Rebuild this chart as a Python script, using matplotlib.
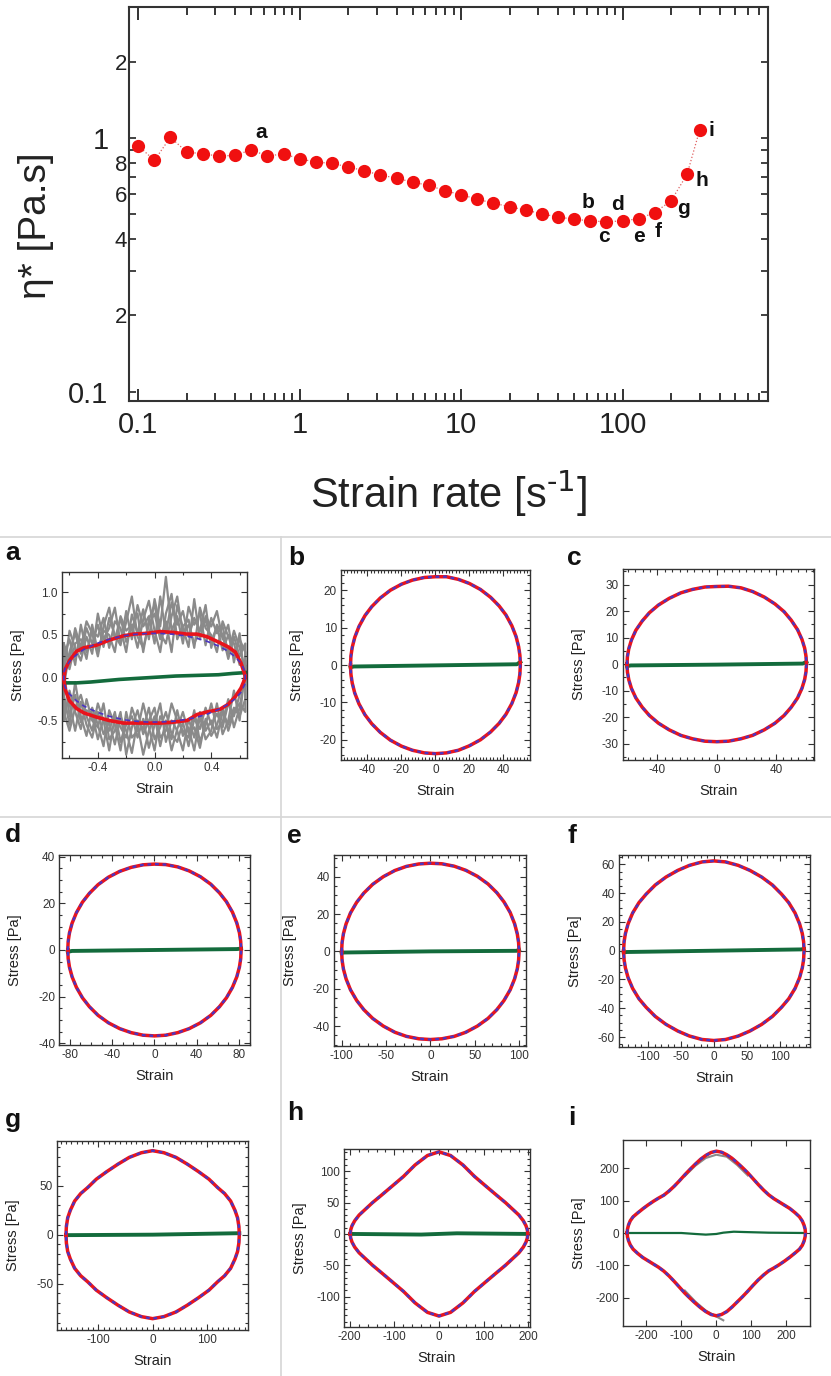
import numpy as np
import matplotlib.pyplot as plt
from matplotlib.lines import Line2D
from matplotlib.ticker import (FixedLocator, FixedFormatter, NullFormatter, MultipleLocator,
                               AutoMinorLocator, FormatStrFormatter)

plt.rcParams['font.family'] = ['Liberation Sans', 'DejaVu Sans']
plt.rcParams['axes.unicode_minus'] = False

W, H = 831, 1376

# ---- top panel: complex viscosity vs strain rate ----
rate = [0.1, 0.126, 0.158, 0.2, 0.251, 0.316, 0.398, 0.501, 0.631, 0.794,
        1.0, 1.26, 1.58, 2.0, 2.51, 3.16, 3.98, 5.01, 6.31, 7.94,
        10.0, 12.6, 15.8, 20.0, 25.1, 31.6, 39.8, 50.1, 63.1, 79.4,
        100, 126, 158, 200, 251, 300]
eta = [0.932, 0.817, 1.007, 0.881, 0.867, 0.849, 0.855, 0.899, 0.849, 0.867,
       0.829, 0.804, 0.795, 0.770, 0.743, 0.715, 0.695, 0.670, 0.651, 0.620,
       0.598, 0.574, 0.554, 0.536, 0.520, 0.503, 0.488, 0.479, 0.471, 0.468,
       0.471, 0.481, 0.508, 0.566, 0.719, 1.072]
point_names = ['a', 'b', 'c', 'd', 'e', 'f', 'g', 'h', 'i']
point_index = [7, 28, 29, 30, 31, 32, 33, 34, 35]

# ---- LAOS loops: strain grid, upper branch and lower branch stress ----
a_strain = [-0.64, -0.63, -0.6, -0.55, -0.5, -0.41, -0.32, -0.22, -0.15, -0.05,
            0.04, 0.13, 0.23, 0.3, 0.37, 0.46, 0.52, 0.57, 0.61, 0.64]
a_red_up = [0.0, 0.1, 0.2, 0.31, 0.35, 0.38, 0.44, 0.49, 0.51, 0.52,
            0.54, 0.53, 0.51, 0.51, 0.48, 0.41, 0.36, 0.30, 0.17, 0.02]
a_red_lo = [-0.02, -0.14, -0.27, -0.36, -0.41, -0.46, -0.50, -0.53, -0.53, -0.53,
            -0.53, -0.52, -0.50, -0.43, -0.40, -0.37, -0.31, -0.22, -0.12, 0.0]
a_fit_up = [0.065, 0.11, 0.19, 0.27, 0.33, 0.40, 0.45, 0.49, 0.506, 0.518,
            0.518, 0.509, 0.486, 0.46, 0.426, 0.365, 0.308, 0.243, 0.169, 0.065]
a_fit_lo = [-0.065, -0.11, -0.19, -0.27, -0.33, -0.40, -0.45, -0.49, -0.506, -0.518,
            -0.518, -0.509, -0.486, -0.46, -0.426, -0.365, -0.308, -0.243, -0.169, -0.065]

a_raw_strain = [-0.64, -0.60, -0.56, -0.52, -0.48, -0.44, -0.40, -0.36, -0.32, -0.28,
                -0.24, -0.20, -0.16, -0.12, -0.08, -0.04, 0.00, 0.04, 0.08, 0.12,
                0.16, 0.20, 0.24, 0.28, 0.32, 0.36, 0.40, 0.44, 0.48, 0.52,
                0.56, 0.60, 0.64]
a_raw1_up = [0.25, 0.45, 0.15, 0.62, 0.30, 0.55, 0.48, 0.70, 0.35, 0.66, 0.58, 0.30, 0.74, 0.52, 0.80, 0.45, 0.92,
             0.60, 1.18, 0.55, 0.72, 0.40, 0.83, 0.62, 0.75, 0.38, 0.70, 0.52, 0.60, 0.28, 0.55, 0.35, 0.10]
a_raw1_lo = [-0.35, -0.30, -0.62, -0.28, -0.55, -0.70, -0.40, -0.66, -0.52, -0.78, -0.45, -0.62, -0.88, -0.50, -0.60,
             -0.35, -0.72, -0.58, -0.40, -0.66, -0.75, -0.52, -0.80, -0.48, -0.60, -0.35, -0.55, -0.42, -0.58, -0.30,
             -0.45, -0.20, -0.05]
a_raw2_up = [-0.10, 0.30, 0.52, 0.28, 0.58, 0.40, 0.62, 0.36, 0.70, 0.50, 0.38, 0.78, 0.45, 0.85, 0.60, 0.72, 0.40,
             0.95, 0.52, 0.88, 0.62, 0.78, 0.48, 0.70, 0.55, 0.68, 0.42, 0.60, 0.32, 0.50, 0.25, 0.45, 0.30]
a_raw2_lo = [0.10, -0.45, -0.20, -0.52, -0.38, -0.42, -0.72, -0.48, -0.62, -0.40, -0.75, -0.55, -0.45, -0.70, -0.48,
             -0.82, -0.55, -0.30, -0.75, -0.50, -0.62, -0.85, -0.48, -0.70, -0.40, -0.62, -0.50, -0.70, -0.40, -0.55,
             -0.35, -0.45, -0.25]
a_raw3_up = [0.35, 0.10, 0.40, 0.45, 0.22, 0.62, 0.30, 0.55, 0.50, 0.30, 0.72, 0.55, 0.62, 0.35, 0.68, 0.90, 0.55,
             0.30, 0.75, 0.98, 0.45, 0.60, 0.68, 0.35, 0.82, 0.58, 0.50, 0.30, 0.66, 0.48, 0.40, 0.15, 0.20]
a_raw3_lo = [-0.50, -0.15, -0.40, -0.60, -0.25, -0.50, -0.58, -0.30, -0.72, -0.62, -0.40, -0.90, -0.58, -0.38, -0.66,
             -0.50, -0.35, -0.70, -0.62, -0.30, -0.50, -0.62, -0.70, -0.38, -0.75, -0.55, -0.30, -0.60, -0.52, -0.25,
             -0.58, -0.35, 0.05]
a_raw4_up = [0.05, 0.55, 0.35, 0.20, 0.48, 0.28, 0.75, 0.45, 0.58, 0.82, 0.40, 0.65, 0.95, 0.48, 0.35, 0.62, 0.75,
             0.45, 0.66, 0.30, 0.85, 0.58, 0.36, 0.92, 0.45, 0.72, 0.60, 0.78, 0.45, 0.62, 0.18, 0.52, -0.10]
a_raw4_lo = [-0.20, -0.55, -0.05, -0.45, -0.68, -0.35, -0.55, -0.80, -0.38, -0.55, -0.85, -0.40, -0.70, -0.62, -0.30,
             -0.58, -0.85, -0.45, -0.55, -0.72, -0.38, -0.68, -0.58, -0.85, -0.45, -0.72, -0.62, -0.30, -0.66, -0.50,
             -0.15, -0.50, 0.15]
a_raw5_up = [0.40, 0.20, 0.58, 0.35, 0.66, 0.52, 0.25, 0.60, 0.82, 0.45, 0.70, 0.42, 0.58, 0.75, 0.30, 0.68, 0.85,
             0.52, 0.40, 0.72, 0.95, 0.50, 0.62, 0.40, 0.55, 0.85, 0.35, 0.62, 0.50, 0.22, 0.48, 0.25, 0.40]
a_raw5_lo = [-0.40, -0.62, -0.35, -0.20, -0.45, -0.62, -0.30, -0.50, -0.85, -0.45, -0.58, -0.70, -0.35, -0.55, -0.90,
             -0.62, -0.45, -0.80, -0.50, -0.85, -0.60, -0.40, -0.65, -0.58, -0.82, -0.48, -0.68, -0.55, -0.35, -0.62,
             -0.40, -0.30, -0.40]
a_green_x = [-0.64, -0.55, -0.45, -0.35, -0.25, -0.15, -0.05, 0.05, 0.15, 0.25, 0.35, 0.45, 0.55, 0.64]
a_green_y = [-0.06, -0.06, -0.05, -0.035, -0.02, -0.01, 0.0, 0.01, 0.02, 0.025, 0.03, 0.035, 0.05, 0.06]

b_strain = [-50, -49.75, -49, -47.5, -45, -41.5, -37.5, -32.5, -26.5, -20, -13.5, -6.5, 0,
            6.5, 13.5, 20, 26.5, 32.5, 37.5, 41.5, 45, 47.5, 49, 49.75, 50]
b_up = [0, 2.4, 4.7, 7.4, 10.3, 13.2, 15.6, 17.9, 20.0, 21.6, 22.7, 23.4, 23.6,
        23.6, 22.9, 21.8, 20.2, 18.1, 15.8, 13.4, 10.5, 7.6, 4.9, 2.6, 0.3]
b_lo = [-0.4, -2.5, -4.8, -7.5, -10.4, -13.3, -15.7, -18.0, -20.1, -21.7, -22.8, -23.5, -23.7,
        -23.5, -22.8, -21.6, -20.0, -17.9, -15.6, -13.2, -10.3, -7.4, -4.7, -2.4, 0]
b_green_x = [-50, -48, 0, 48, 50]
b_green_y = [-0.6, -0.4, -0.1, 0.2, 0.8]

c_strain = [-60.5, -60.2, -59.3, -57.5, -54.5, -50.2, -45.4, -39.3, -32.1, -24.2, -16.3, -7.9, 0,
            7.9, 16.3, 24.2, 32.1, 39.3, 45.4, 50.2, 54.5, 57.5, 59.3, 60.2, 60.5]
c_up = [0, 2.9, 5.8, 9.1, 12.8, 16.3, 19.4, 22.3, 24.8, 26.9, 28.2, 29.1, 29.3,
        29.4, 28.8, 27.4, 25.3, 22.7, 19.8, 16.6, 13.0, 9.3, 6.0, 3.0, 0.2]
c_lo = [-0.3, -3.0, -5.9, -9.2, -12.8, -16.3, -19.4, -22.3, -24.8, -26.9, -28.2, -29.1, -29.3,
        -29.1, -28.2, -26.9, -24.8, -22.3, -19.4, -16.3, -12.8, -9.1, -5.8, -2.9, 0]
c_green_x = [-60.5, -58, 0, 58, 60.5]
c_green_y = [-0.8, -0.5, -0.2, 0.2, 0.8]

d_strain = [-82, -81.6, -80.4, -77.9, -73.8, -68.1, -61.5, -53.3, -43.5, -32.8, -22.1, -10.7, 0,
            10.7, 22.1, 32.8, 43.5, 53.3, 61.5, 68.1, 73.8, 77.9, 80.4, 81.6, 82]
d_up = [0, 3.7, 7.3, 11.5, 16.0, 20.5, 24.3, 28.0, 31.2, 33.7, 35.4, 36.5, 36.8,
        36.6, 35.6, 33.9, 31.4, 28.2, 24.5, 20.7, 16.2, 11.6, 7.4, 3.7, 0]
d_lo = [0, -3.7, -7.3, -11.5, -16.0, -20.5, -24.3, -28.0, -31.2, -33.7, -35.4, -36.5, -36.8,
        -36.5, -35.4, -33.7, -31.2, -28.0, -24.3, -20.5, -16.0, -11.5, -7.3, -3.7, 0]
d_green_x = [-82, -78, 0, 78, 82]
d_green_y = [-0.8, -0.4, 0, 0.4, 0.6]

e_strain = [-100, -99.5, -98, -95, -90, -83, -75, -65, -53, -40, -27, -13, 0,
            13, 27, 40, 53, 65, 75, 83, 90, 95, 98, 99.5, 100]
e_up = [0, 4.7, 9.4, 14.7, 20.6, 26.3, 31.2, 35.9, 40.0, 43.3, 45.5, 46.8, 47.2,
        46.9, 45.6, 43.4, 40.2, 36.1, 31.4, 26.5, 20.8, 14.8, 9.4, 4.7, 0]
e_lo = [0, -4.7, -9.4, -14.7, -20.6, -26.3, -31.2, -35.9, -40.0, -43.3, -45.5, -46.8, -47.2,
        -46.8, -45.5, -43.3, -40.0, -35.9, -31.2, -26.3, -20.6, -14.7, -9.4, -4.7, 0]
e_green_x = [-100, -97, 0, 97, 100]
e_green_y = [-0.8, -0.6, 0, 0.3, 0.8]

f_strain = [-137, -136.3, -134.3, -130.2, -123.3, -113.7, -102.8, -89.1, -72.6, -54.8, -37, -17.8, 0,
            17.8, 37, 54.8, 72.6, 89.1, 102.8, 113.7, 123.3, 130.2, 134.3, 136.3, 137]
f_up = [0, 6.2, 11.9, 18.7, 26.2, 33.4, 39.3, 45.6, 51.2, 55.8, 59.3, 61.7, 62.4,
        61.7, 59.3, 55.8, 51.2, 45.6, 39.3, 33.4, 26.2, 18.7, 11.9, 6.2, 0]
f_lo = [0, -6.2, -11.9, -18.7, -26.2, -33.4, -39.3, -45.6, -51.2, -55.8, -59.3, -61.7, -62.4,
        -61.7, -59.3, -55.8, -51.2, -45.6, -39.3, -33.4, -26.2, -18.7, -11.9, -6.2, 0]
f_green_x = [-137, -132, 0, 132, 137]
f_green_y = [-1.2, -0.9, 0, 0.9, 1.2]

g_strain = [-160, -159.2, -156.8, -152, -144, -132.8, -120, -104, -84.8, -64, -43.2, -20.8, 0,
            20.8, 43.2, 64, 84.8, 104, 120, 132.8, 144, 152, 156.8, 159.2, 160]
g_up = [0, 8.6, 17.2, 24.9, 34.4, 42.1, 48.2, 56.8, 64.5, 72.2, 79.1, 83.9, 86,
        83.9, 79.1, 72.2, 64.5, 56.8, 48.2, 42.1, 34.4, 24.9, 17.2, 8.6, 0]
g_lo = [0, -8.6, -17.2, -24.9, -34.4, -42.1, -48.2, -56.8, -64.5, -72.2, -79.1, -83.9, -86,
        -83.9, -79.1, -72.2, -64.5, -56.8, -48.2, -42.1, -34.4, -24.9, -17.2, -8.6, 0]
g_green_x = [-160, 0, 160]
g_green_y = [-0.5, 0, 1.5]

h_strain = [-199, -198, -195, -189, -179.1, -165.2, -149.3, -129.4, -105.5, -79.6, -53.7, -25.9, 0,
            25.9, 53.7, 79.6, 105.5, 129.4, 149.3, 165.2, 179.1, 189, 195, 198, 199]
h_up = [0, 6.6, 13.1, 21.0, 30.1, 39.3, 49.8, 61.6, 76.0, 91.7, 110.0, 125.1, 131,
        125.1, 110.0, 91.7, 76.0, 61.6, 49.8, 39.3, 30.1, 21.0, 13.1, 6.6, 0]
h_lo = [0, -6.6, -13.1, -21.0, -30.1, -39.3, -49.8, -61.6, -76.0, -91.7, -110.0, -125.1, -131,
        -125.1, -110.0, -91.7, -76.0, -61.6, -49.8, -39.3, -30.1, -21.0, -13.1, -6.6, 0]
h_green_x = [-199, -40, 0, 40, 199]
h_green_y = [0, -1, 0, 1, 0]

i_strain = [-255, -254, -251, -246, -238, -225, -210, -195, -180, -165, -150, -135, -120, -105, -90, -75,
            -60, -45, -30, -15, 0, 15, 30, 45, 60, 75, 90, 105, 120, 135, 150, 165, 180, 195, 210, 225,
            238, 246, 251, 254, 255]
i_up = [0, 12, 25, 38, 50, 62, 75, 87, 98, 108, 117, 130, 145, 162, 180, 197,
        213, 228, 240, 249, 253, 250, 242, 231, 217, 202, 186, 168, 150, 133, 118, 106, 96, 86, 76, 63,
        50, 37, 24, 12, 0]
i_lo = [0, -12, -24, -37, -50, -63, -76, -86, -96, -106, -118, -133, -150, -168, -186, -202,
        -217, -231, -243, -252, -256, -252, -243, -229, -213, -197, -180, -162, -145, -130, -117, -108, -98,
        -87, -75, -62, -50, -38, -25, -12, 0]
i_raw_up_x = [-90, -60, -30, 0, 30, 60, 90]
i_raw_up_y = [176, 208, 232, 242, 236, 210, 178]
i_raw_lo_x = [-90, -60, -30, 0, 20]
i_raw_lo_y = [-178, -212, -240, -258, -270]
i_green_x = [-255, -100, -60, -30, 0, 20, 50, 80, 150, 255]
i_green_y = [0, 0, -3, -5, -3, 1, 4, 3, 1, 0]

RED = '#e8141c'
BLUE = '#4a34c4'
GREEN = '#136b3c'
GRAY = '#8a8a8a'
DARK = '#333333'


def px_axes(fig, l, t, r, b):
    return fig.add_axes([l / W, 1 - b / H, (r - l) / W, (b - t) / H])


def loop(x, up, lo):
    x = list(x)
    return x + x[::-1] + [x[0]], list(up) + list(lo)[::-1] + [up[0]]


fig = plt.figure(figsize=(W / 100, H / 100), dpi=100)

# ---------------- top plot ----------------
ax = px_axes(fig, 129.3, 7, 768.3, 401)
ax.plot(rate, eta, ':', color='#e06060', lw=0.9, zorder=2)
ax.plot(rate, eta, 'o', color='#f01010', ms=9.5, mec='none', zorder=3)
ax.set_xscale('log')
ax.set_yscale('log')
ax.set_xlim(0.088, 800)
ax.set_ylim(0.0918, 3.29)

ax.xaxis.set_major_locator(FixedLocator([0.1, 1, 10, 100]))
ax.set_xticklabels(['0.1', '1', '10', '100'])
xminor = [m * d for d in [0.1, 1, 10, 100] for m in range(2, 10) if m * d < 800]
ax.xaxis.set_minor_locator(FixedLocator(xminor))
ax.xaxis.set_minor_formatter(NullFormatter())
ax.yaxis.set_major_locator(FixedLocator([0.1, 1]))
ax.set_yticklabels(['0.1', '1'])
ax.yaxis.set_minor_locator(FixedLocator([0.2, 0.3, 0.4, 0.5, 0.6, 0.7, 0.8, 0.9, 2]))
ax.yaxis.set_minor_formatter(FixedFormatter(['2', '', '4', '', '6', '', '8', '', '2']))
ax.tick_params(axis='x', which='major', direction='in', top=True, length=9, width=1.3,
               labelsize=21, pad=7, colors='#222222')
ax.tick_params(axis='x', which='minor', direction='in', top=True, length=5.5, width=1.1)
ax.tick_params(axis='y', which='major', direction='in', right=True, length=5, width=1.2,
               labelsize=21, pad=15, colors='#222222')
ax.tick_params(axis='y', which='minor', direction='in', right=True, length=5, width=1.2,
               labelsize=16, pad=1.5, colors='#222222')
for s in ax.spines.values():
    s.set_linewidth(1.5)
    s.set_color(DARK)

for name, k, off in zip(point_names, point_index,
                        [(10, 17), (-2, 18), (-2, -15), (-5, 16), (0, -18), (4, -19), (12, -8), (15, -6), (12, 0)]):
    ax.annotate(name, (rate[k], eta[k]), xytext=off, textcoords='offset pixels',
                ha='center', va='center', fontsize=15, fontweight='bold', color='#111111')

ax.set_ylabel('η* [Pa.s]', fontsize=28, va='center', color='#222222')
ax.yaxis.set_label_coords(-0.146, 0.444)
ax.set_xlabel('Strain rate [s$^{\\text{-1}}$]', fontsize=30, va='top', color='#222222')
ax.xaxis.set_label_coords(0.5, -0.17)

# ---------------- separators ----------------
fig.add_artist(Line2D([0, 1], [1 - 537 / H] * 2, color='#d6d6d6', lw=1.2))
fig.add_artist(Line2D([0, 1], [1 - 817 / H] * 2, color='#d6d6d6', lw=1.2))
fig.add_artist(Line2D([281 / W] * 2, [0, 1 - 537 / H], color='#d6d6d6', lw=1.2))

# ---------------- LAOS panels ----------------
panels = [
    ('a', (61.7, 571.7, 246.7, 757.7), (-0.655, 0.65), (-0.935, 1.24), 0.4, 2, 0.5, 2, '%.1f', '%.1f', (5, 560)),
    ('b', (341, 570, 530, 760), (-55.6, 55.7), (-25.4, 25.4), 20, 10, 10, 5, '%d', '%d', (288, 565)),
    ('c', (622.7, 569, 814, 760), (-63.4, 65.6), (-36.2, 35.9), 40, 8, 10, 2, '%d', '%d', (567, 565)),
    ('d', (59.3, 855, 250, 1045), (-90, 90.4), (-40.7, 40.7), 40, 4, 20, 4, '%d', '%d', (5, 842)),
    ('e', (334, 855, 525.7, 1045.7), (-108.6, 107.5), (-50.5, 51.6), 50, 5, 20, 4, '%d', '%d', (287, 843)),
    ('f', (619, 855, 810, 1046.7), (-144, 146), (-66.7, 66.5), 50, 5, 20, 4, '%d', '%d', (568, 843)),
    ('g', (57.3, 1140.7, 248.3, 1330), (-176, 176.6), (-97.6, 96.2), 100, 10, 50, 5, '%d', '%d', (5, 1127)),
    ('h', (344, 1149, 530, 1326.7), (-213, 204), (-148, 135.5), 100, 5, 50, 5, '%d', '%d', (287, 1120)),
    ('i', (623.3, 1140, 810, 1326), (-266, 268), (-287.6, 287.6), 100, 1, 100, 1, '%d', '%d', (568, 1125)),
]
loops = {
    'b': (b_strain, b_up, b_lo, b_green_x, b_green_y),
    'c': (c_strain, c_up, c_lo, c_green_x, c_green_y),
    'd': (d_strain, d_up, d_lo, d_green_x, d_green_y),
    'e': (e_strain, e_up, e_lo, e_green_x, e_green_y),
    'f': (f_strain, f_up, f_lo, f_green_x, f_green_y),
    'g': (g_strain, g_up, g_lo, g_green_x, g_green_y),
    'h': (h_strain, h_up, h_lo, h_green_x, h_green_y),
    'i': (i_strain, i_up, i_lo, i_green_x, i_green_y),
}

for (name, rect, xl, yl, xmaj, xmin_n, ymaj, ymin_n, xfmt, yfmt, lpos) in panels:
    a = px_axes(fig, *rect)
    if name == 'a':
        for up, lo in [(a_raw1_up, a_raw1_lo), (a_raw2_up, a_raw2_lo), (a_raw3_up, a_raw3_lo),
                       (a_raw4_up, a_raw4_lo), (a_raw5_up, a_raw5_lo)]:
            x, y = loop(a_raw_strain, up, lo)
            a.plot(x, y, color=GRAY, lw=1.6, zorder=1)
        a.plot(a_green_x, a_green_y, color=GREEN, lw=2.6, zorder=2)
        x, y = loop(a_strain, a_red_up, a_red_lo)
        a.plot(x, y, color=RED, lw=2.6, zorder=3)
        x, y = loop(a_strain, a_fit_up, a_fit_lo)
        a.plot(x, y, color=BLUE, lw=1.2, dashes=(3, 2.5), zorder=4)
    else:
        sx, up, lo, gx, gy = loops[name]
        if name == 'i':
            a.plot(i_raw_up_x, i_raw_up_y, color=GRAY, lw=1.5, zorder=1)
            a.plot(i_raw_lo_x, i_raw_lo_y, color=GRAY, lw=1.5, zorder=1)
        a.plot(gx, gy, color=GREEN, lw=1.6 if name == 'i' else 2.8, zorder=2)
        x, y = loop(sx, up, lo)
        a.plot(x, y, color=RED, lw=2.5, zorder=3)
        a.plot(x, y, color=BLUE, lw=1.7, dashes=(1.6, 1.6), zorder=4)
    a.set_xlim(*xl)
    a.set_ylim(*yl)
    a.xaxis.set_major_locator(MultipleLocator(xmaj))
    a.yaxis.set_major_locator(MultipleLocator(ymaj))
    if xmin_n > 1:
        a.xaxis.set_minor_locator(AutoMinorLocator(xmin_n))
    if ymin_n > 1:
        a.yaxis.set_minor_locator(AutoMinorLocator(ymin_n))
    a.xaxis.set_major_formatter(FormatStrFormatter(xfmt))
    a.yaxis.set_major_formatter(FormatStrFormatter(yfmt))
    a.tick_params(which='both', direction='in', top=True, right=True, colors=DARK,
                  labelsize=8.5, width=0.8)
    a.tick_params(which='major', length=4, pad=3)
    a.tick_params(which='minor', length=2)
    for s in a.spines.values():
        s.set_linewidth(1.0)
        s.set_color(DARK)
    wpx = rect[2] - rect[0]
    hpx = rect[3] - rect[1]
    a.set_ylabel('Stress [Pa]', fontsize=10.5, va='center', color='#222222')
    a.yaxis.set_label_coords(-44 / wpx, 0.5)
    a.set_xlabel('Strain', fontsize=10.5, va='center', color='#222222')
    a.xaxis.set_label_coords(0.5, -31 / hpx)
    fig.text(lpos[0] / W, 1 - lpos[1] / H, name, fontsize=19, fontweight='bold',
             ha='left', va='baseline', color='#111111')

fig.savefig('out.png', dpi=100)
